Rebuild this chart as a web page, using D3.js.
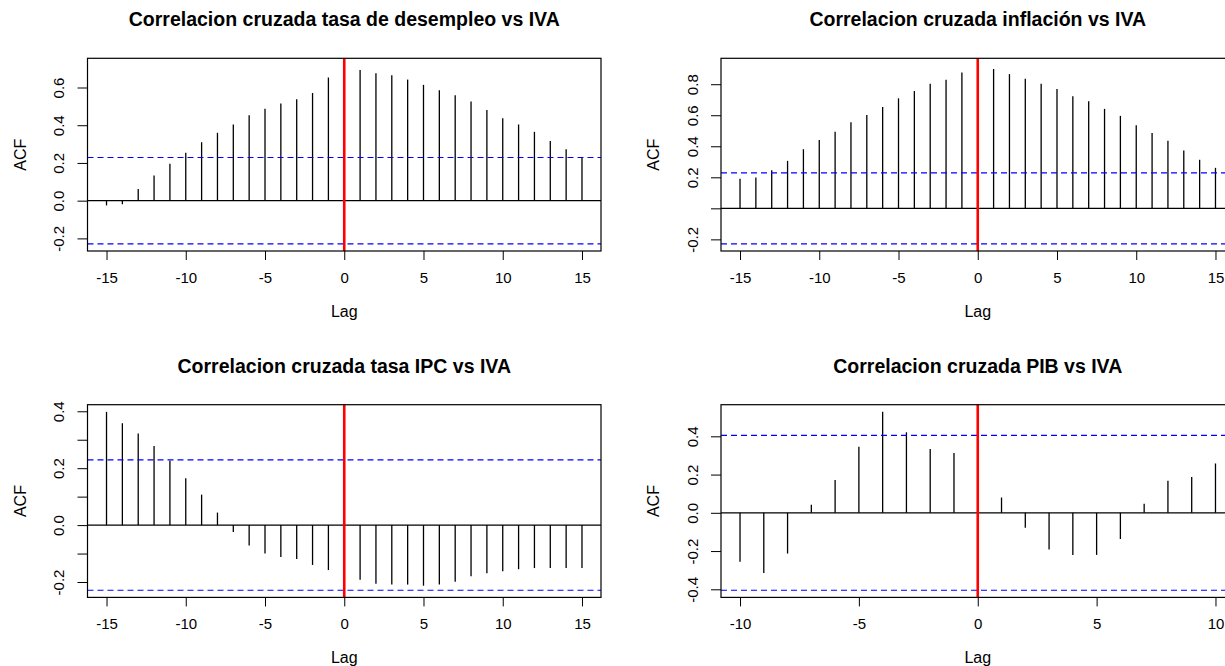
<!DOCTYPE html>
<html>
<head>
<meta charset="utf-8">
<script src="https://cdn.jsdelivr.net/npm/d3@7"></script>
<style>
  body { margin: 0; background: #fff; }
  svg { display: block; font-family: "Liberation Sans", Arial, sans-serif; }
</style>
</head>
<body>
<svg id="chart" width="1225" height="666"></svg>
<script>
// lags
const lags15 = [-15,-14,-13,-12,-11,-10,-9,-8,-7,-6,-5,-4,-3,-2,-1,0,1,2,3,4,5,6,7,8,9,10,11,12,13,14,15]
const lags10 = [-10,-9,-8,-7,-6,-5,-4,-3,-2,-1,0,1,2,3,4,5,6,7,8,9,10]

// ACF values (lag 0 is hidden behind the red line)
const acfDesempleo = [-0.025,-0.019,0.062,0.134,0.196,0.254,0.310,0.360,0.404,0.453,0.487,0.515,0.538,0.571,0.653,
  0.717,0.693,0.675,0.665,0.642,0.614,0.586,0.559,0.526,0.481,0.437,0.404,0.365,0.317,0.272,0.231]
const acfInflacion = [0.191,0.199,0.246,0.306,0.381,0.441,0.493,0.555,0.602,0.653,0.709,0.756,0.803,0.829,0.876,
  0.921,0.898,0.865,0.835,0.803,0.769,0.722,0.690,0.641,0.596,0.536,0.486,0.435,0.373,0.313,0.261]
const acfIPC = [0.398,0.358,0.322,0.278,0.226,0.165,0.107,0.044,-0.024,-0.072,-0.100,-0.112,-0.119,-0.140,-0.158,
  -0.180,-0.192,-0.206,-0.209,-0.209,-0.213,-0.209,-0.199,-0.180,-0.169,-0.162,-0.155,-0.151,-0.151,-0.151,-0.151]
const acfPIB = [-0.256,-0.315,-0.213,0.042,0.171,0.345,0.528,0.421,0.334,0.313,
  0.120,0.080,-0.078,-0.192,-0.220,-0.220,-0.137,0.047,0.168,0.187,0.258]

// confidence bounds
const ciDesempleo = 0.229
const ciInflacion = 0.229
const ciIPC = 0.229
const ciPIB = 0.405

// tick marks and labels
const xTicks15 = [-15,-10,-5,0,5,10,15]
const xTicks10 = [-10,-5,0,5,10]
const yTicksDesempleo = [-0.2,0,0.2,0.4,0.6]
const yLabelsDesempleo = ["-0.2","0.0","0.2","0.4","0.6"]
const yTicksInflacion = [-0.2,0,0.2,0.4,0.6,0.8]
const yLabelsInflacion = ["-0.2","","0.2","0.4","0.6","0.8"]
const yTicksIPC = [-0.2,-0.1,0,0.1,0.2,0.3,0.4]
const yLabelsIPC = ["-0.2","","0.0","","0.2","","0.4"]
const yTicksPIB = [-0.4,-0.2,0,0.2,0.4]
const yLabelsPIB = ["-0.4","-0.2","0.0","0.2","0.4"]

const titles = [
  "Correlacion cruzada tasa de desempleo vs IVA",
  "Correlacion cruzada inflación vs IVA",
  "Correlacion cruzada tasa IPC vs IVA",
  "Correlacion cruzada PIB vs IVA"
]

const svg = d3.select("#chart")

const panels = [
  {left: 87.5, top: 58.3, lags: lags15, vals: acfDesempleo, ci: ciDesempleo, xt: xTicks15, yt: yTicksDesempleo, yl: yLabelsDesempleo, title: titles[0]},
  {left: 721, top: 58.3, lags: lags15, vals: acfInflacion, ci: ciInflacion, xt: xTicks15, yt: yTicksInflacion, yl: yLabelsInflacion, title: titles[1]},
  {left: 87.5, top: 404.7, lags: lags15, vals: acfIPC, ci: ciIPC, xt: xTicks15, yt: yTicksIPC, yl: yLabelsIPC, title: titles[2]},
  {left: 721, top: 404.7, lags: lags10, vals: acfPIB, ci: ciPIB, xt: xTicks10, yt: yTicksPIB, yl: yLabelsPIB, title: titles[3]}
]

const W = 513.5, H = 192.7

panels.forEach(drawPanel)

function drawPanel(p){
  var g = svg.append("g").attr("transform", `translate(${p.left},${p.top})`)

  // R style ranges: 4% padding
  var xmin = d3.min(p.lags), xmax = d3.max(p.lags)
  var xpad = (xmax - xmin) * 0.04
  var x = d3.scaleLinear().domain([xmin - xpad, xmax + xpad]).range([0, W])

  var ymin = Math.min(d3.min(p.vals), -p.ci), ymax = Math.max(d3.max(p.vals), p.ci)
  var ypad = (ymax - ymin) * 0.04
  var y = d3.scaleLinear().domain([ymin - ypad, ymax + ypad]).range([H, 0])

  // x axis
  var xa = g.append("g").attr("transform", `translate(0,${H})`)
    .call(d3.axisBottom(x).tickValues(p.xt).tickSize(9).tickPadding(12).tickFormat(d => d < 0 ? "-" + Math.abs(d) : d))
  xa.select(".domain").remove()
  xa.selectAll("line").attr("stroke", "#000").attr("stroke-width", 1)
  xa.selectAll("text").attr("font-size", "15px").attr("fill", "#000").attr("font-family", "Liberation Sans, Arial")

  // y axis, labels rotated like R
  var ya = g.append("g")
    .call(d3.axisLeft(y).tickValues(p.yt).tickSize(10).tickFormat((d, i) => p.yl[i]))
  ya.select(".domain").remove()
  ya.selectAll("line").attr("stroke", "#000").attr("stroke-width", 1)
  ya.selectAll("text")
    .attr("transform", "rotate(-90)")
    .attr("x", 0).attr("y", -28.5).attr("dy", "0.35em")
    .style("text-anchor", "middle")
    .attr("font-size", "15px").attr("fill", "#000").attr("font-family", "Liberation Sans, Arial")

  // zero line
  g.append("line").attr("x1", 0).attr("x2", W).attr("y1", y(0)).attr("y2", y(0))
    .attr("stroke", "#000").attr("stroke-width", 1.2)

  // bars
  g.selectAll(".bar").data(p.vals).enter().append("line")
    .attr("class", "bar")
    .attr("x1", (d, i) => x(p.lags[i])).attr("x2", (d, i) => x(p.lags[i]))
    .attr("y1", y(0)).attr("y2", d => y(d))
    .attr("stroke", "#000").attr("stroke-width", 1.3)

  // confidence lines
  g.selectAll(".ci").data([p.ci, -p.ci]).enter().append("line")
    .attr("class", "ci")
    .attr("x1", 0).attr("x2", W).attr("y1", d => y(d)).attr("y2", d => y(d))
    .attr("stroke", "#0000ff").attr("stroke-width", 1.2).attr("stroke-dasharray", "6,4")

  // red line at lag 0
  g.append("line").attr("x1", x(0)).attr("x2", x(0)).attr("y1", 0).attr("y2", H)
    .attr("stroke", "#ff0000").attr("stroke-width", 2.6)

  // box
  g.append("rect").attr("width", W).attr("height", H)
    .attr("fill", "none").attr("stroke", "#000").attr("stroke-width", 1.2)

  // title
  g.append("text").attr("x", W / 2).attr("y", -32)
    .attr("text-anchor", "middle").attr("font-weight", "bold").attr("font-size", "19.5px")
    .attr("fill", "#000").text(p.title)

  // axis titles
  g.append("text").attr("x", x(0)).attr("y", H + 66)
    .attr("text-anchor", "middle").attr("font-size", "16px").attr("fill", "#000").text("Lag")
  g.append("text").attr("transform", `translate(-62,${H / 2}) rotate(-90)`)
    .attr("text-anchor", "middle").attr("font-size", "16px").attr("fill", "#000").text("ACF")
}
</script>
</body>
</html>
